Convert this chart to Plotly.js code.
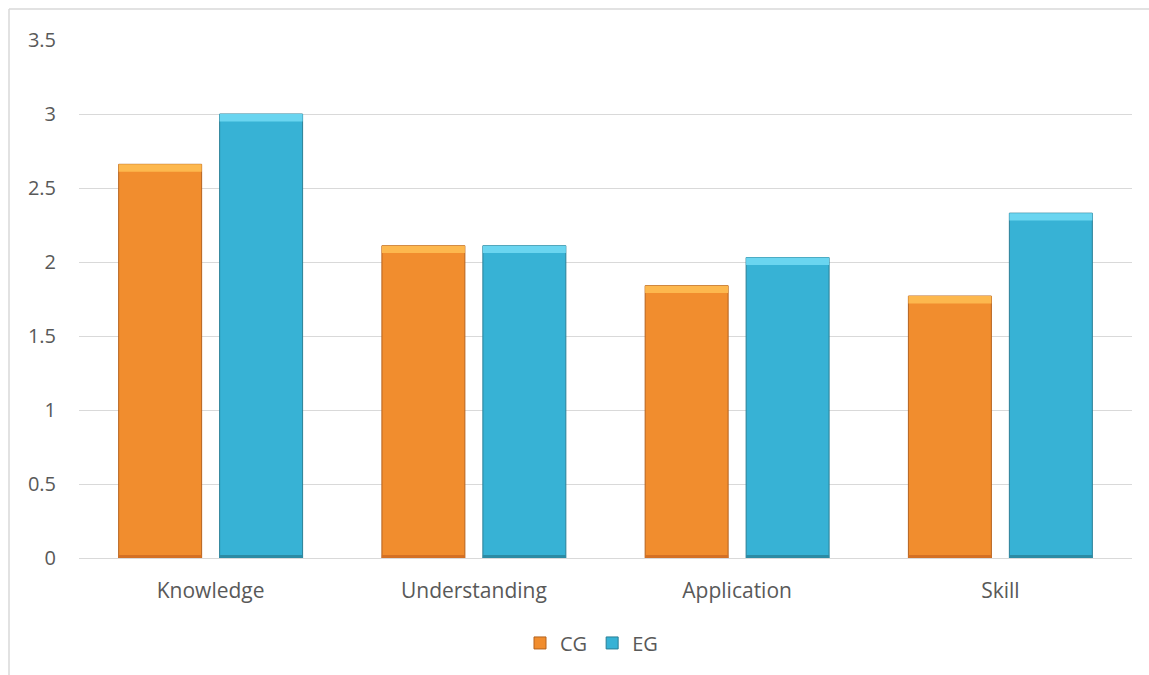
<!DOCTYPE html>
<html>
<head>
<meta charset="utf-8">
<script src="https://cdn.plot.ly/plotly-3.0.1.min.js"></script>
<style>
  html, body { margin: 0; padding: 0; background: #ffffff; }
  #chart { width: 1149px; height: 675px; }
</style>
</head>
<body>
<div id="chart"></div>
<script>
// Mean scores per learning dimension
const categories = ["Knowledge", "Understanding", "Application", "Skill"];
const cgValues = [2.66, 2.11, 1.84, 1.77];
const egValues = [3.00, 2.11, 2.03, 2.33];

const yTicks = [0, 0.5, 1, 1.5, 2, 2.5, 3, 3.5];
const yTickText = ["0", "0.5", "1", "1.5", "2", "2.5", "3", "3.5"];

// Bevel band thickness (in axis units) used for the raised-edge look
const bevel = 0.05;

const cgColor = "#F18D2E";
const egColor = "#37B2D5";

function mainBar(name, values, color, edge, group) {
  return {
    type: "bar",
    name: name,
    x: categories,
    y: values,
    offsetgroup: group,
    marker: { color: color, line: { color: edge, width: 1 } },
    hoverinfo: "x+y+name"
  };
}

// lighter strip across the top of each bar
function topStrip(values, color, group) {
  return {
    type: "bar",
    x: categories,
    y: values.map(() => bevel),
    base: values.map(v => v - bevel),
    offsetgroup: group,
    showlegend: false,
    hoverinfo: "skip",
    marker: { color: color, line: { width: 0 } }
  };
}

// darker strip across the foot of each bar
function bottomStrip(values, color, group) {
  return {
    type: "bar",
    x: categories,
    y: values.map(() => bevel * 0.4),
    base: values.map(() => 0),
    offsetgroup: group,
    showlegend: false,
    hoverinfo: "skip",
    marker: { color: color, line: { width: 0 } }
  };
}

const data = [
  mainBar("CG", cgValues, cgColor, "#B5621E", "cg"),
  mainBar("EG", egValues, egColor, "#2A7F96", "eg"),
  topStrip(cgValues, "#FDB84E", "cg"),
  topStrip(egValues, "#6AD5F0", "eg"),
  bottomStrip(cgValues, "#D47024", "cg"),
  bottomStrip(egValues, "#2C8BA4", "eg")
];

const fontFamily = "'Open Sans', Lato, sans-serif";

const layout = {
  width: 1149,
  height: 675,
  margin: { l: 79, r: 17, t: 40, b: 117 },
  paper_bgcolor: "#ffffff",
  plot_bgcolor: "#ffffff",
  barmode: "group",
  bargap: 0.233,
  bargroupgap: 0.178,
  font: { family: fontFamily, size: 20, color: "#595959" },
  xaxis: {
    type: "category",
    showgrid: false,
    showline: true,
    linecolor: "#D9D9D9",
    linewidth: 1,
    ticks: "",
    ticklabelstandoff: 14,
    tickfont: { family: fontFamily, size: 21, color: "#595959" },
    zeroline: false,
    fixedrange: true
  },
  yaxis: {
    range: [0, 3.5],
    tickvals: yTicks,
    ticktext: yTickText,
    showgrid: true,
    gridcolor: "#D9D9D9",
    gridwidth: 1,
    showline: false,
    zeroline: false,
    ticks: "",
    ticklabelstandoff: 22,
    tickfont: { family: fontFamily, size: 20, color: "#595959" },
    fixedrange: true
  },
  legend: {
    orientation: "h",
    x: 0.5 - 14 / 1053,
    xanchor: "center",
    y: -0.164,
    yanchor: "middle",
    font: { family: fontFamily, size: 20, color: "#595959" },
    itemwidth: 30,
    traceorder: "normal"
  },
  shapes: [
    // chart frame (left and top edges)
    { type: "line", xref: "paper", yref: "paper",
      x0: -70 / 1053, x1: -70 / 1053, y0: 1.06, y1: -0.25,
      line: { color: "#D9D9D9", width: 1.5 } },
    { type: "line", xref: "paper", yref: "paper",
      x0: -70 / 1053, x1: 1.05, y0: 1.06, y1: 1.06,
      line: { color: "#D9D9D9", width: 1.5 } }
  ],
  showlegend: true
};

Plotly.newPlot("chart", data, layout, { displayModeBar: false, staticPlot: true });
</script>
</body>
</html>
